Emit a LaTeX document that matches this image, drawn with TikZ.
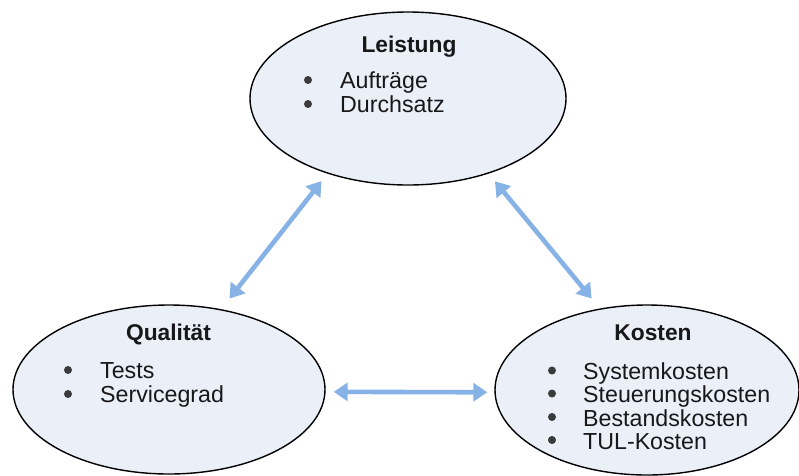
\documentclass[tikz,border=0pt]{standalone}
\usepackage{fontspec}
\setmainfont{Liberation Sans}
\usetikzlibrary{arrows.meta,shapes.geometric}

\definecolor{ellfill}{RGB}{234,239,248}
\definecolor{arrowblue}{RGB}{135,178,230}
\definecolor{textdark}{RGB}{24,24,26}

\tikzset{
  goal/.style={ellipse, draw=black, line width=1.4pt, fill=ellfill, inner sep=0pt},
  heading/.style={anchor=base, inner sep=0pt, text=textdark,
    font=\fontsize{22.8}{24}\selectfont\bfseries},
  entry/.style={anchor=base west, inner sep=0pt, text=textdark,
    font=\fontsize{23.2}{24}\selectfont},
  dot/.style={circle, fill=textdark!85, inner sep=0pt, minimum size=8pt},
  biarrow/.style={draw=arrowblue, line width=4.6pt,
    {Triangle[length=14pt,width=18pt]}-{Triangle[length=14pt,width=18pt]}}
}

\begin{document}
\begin{tikzpicture}[x=1pt, y=-1pt]
  \useasboundingbox (0,0) rectangle (799,475);

  % the three target areas
  \node[goal, minimum width=316pt, minimum height=173pt] (T) at (408,98.5) {};
  \node[goal, minimum width=312pt, minimum height=169pt] (L) at (169,389.5) {};
  \node[goal, minimum width=304pt, minimum height=170pt] (R) at (647,390) {};

  % Leistung
  \node[heading] (Th) at (409,52) {Leistung};
  \node[dot] (Tb1) at (308,80) {};
  \node[dot] (Tb2) at (308,104) {};
  \node[entry] (Ti1) at (340,88) {Aufträge};
  \node[entry] (Ti2) at (340,112) {Durchsatz};

  % Qualität
  \node[heading] (Lh) at (168.5,340) {Qualität};
  \node[dot] (Lb1) at (68,370) {};
  \node[dot] (Lb2) at (68,394) {};
  \node[entry] (Li1) at (100,378) {Tests};
  \node[entry] (Li2) at (100,402) {Servicegrad};

  % Kosten
  \node[heading] (Rh) at (653,340) {Kosten};
  \node[dot] (Rb1) at (552,370.5) {};
  \node[dot] (Rb2) at (552,393.5) {};
  \node[dot] (Rb3) at (552,417) {};
  \node[dot] (Rb4) at (552,440) {};
  \node[entry] (Ri1) at (583,379) {Systemkosten};
  \node[entry] (Ri2) at (583,402.5) {Steuerungskosten};
  \node[entry] (Ri3) at (583,426) {Bestandskosten};
  \node[entry] (Ri4) at (583,449) {TUL-Kosten};

  % mutual influences
  \draw[biarrow, shorten <=13.5pt, shorten >=9.5pt] (L.57.6) -- (T.223.5);
  \draw[biarrow, shorten <=10pt, shorten >=13pt] (T.317.1) -- (R.120.9);
  \draw[biarrow, shorten <=8pt, shorten >=7pt]
    ([yshift=-2.3pt]L.east) -- ([yshift=-2.3pt]R.west);
\end{tikzpicture}
\end{document}
